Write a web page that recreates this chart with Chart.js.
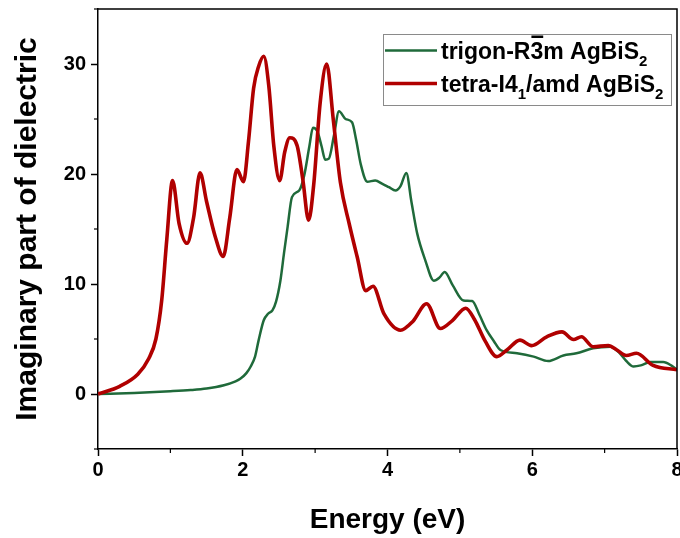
<!DOCTYPE html>
<html>
<head>
<meta charset="utf-8">
<script src="https://cdn.jsdelivr.net/npm/chart.js@4"></script>
<style>
html, body { margin: 0; padding: 0; background: #fff; }
</style>
</head>
<body>
<canvas id="chart" width="680" height="538"></canvas>
<script>
// values
const trigonEnergy = [0, 0.5, 1.0, 1.28, 1.5, 1.74, 1.9, 1.97, 2.05, 2.11, 2.17, 2.22, 2.29, 2.35, 2.41, 2.46,
  2.52, 2.57, 2.62, 2.68, 2.78, 2.85, 2.92, 2.97, 3.03, 3.09, 3.14, 3.19, 3.26, 3.33, 3.42, 3.51, 3.57,
  3.63, 3.72, 3.83, 3.93, 4.02, 4.11, 4.18, 4.26, 4.33, 4.41, 4.52, 4.64, 4.72, 4.79, 4.9, 5.05, 5.17,
  5.27, 5.37, 5.47, 5.56, 5.79, 6.02, 6.22, 6.43, 6.61, 6.84, 7.08, 7.21, 7.30, 7.40, 7.5, 7.63, 7.81, 7.92, 8.0]
const trigonEps = [0, 0.1, 0.25, 0.36, 0.5, 0.8, 1.15, 1.4, 1.9, 2.5, 3.4, 4.9, 6.7, 7.3, 7.6, 8.4,
  10.3, 12.8, 15.2, 17.9, 18.5, 19.9, 22.5, 24.2, 23.9, 22.5, 21.3, 21.4, 23.5, 25.7, 25, 24.7, 23,
  20.9, 19.3, 19.4, 19.1, 18.8, 18.5, 18.9, 20.1, 17.5, 14.6, 12.2, 10.3, 10.6, 11.1, 9.9, 8.5, 8.45,
  7.2, 5.8, 4.8, 4.0, 3.7, 3.4, 3.0, 3.5, 3.7, 4.15, 4.3, 3.7, 3.0, 2.5, 2.6, 2.9, 2.9, 2.6, 2.2]

const tetraEnergy = [0, 0.3, 0.55, 0.7, 0.8, 0.88, 0.95, 1.03, 1.12, 1.23, 1.32, 1.41, 1.5, 1.62, 1.73,
  1.82, 1.92, 2.01, 2.08, 2.15, 2.22, 2.29, 2.36, 2.43, 2.51, 2.58, 2.65, 2.75, 2.83, 2.91, 2.98, 3.07,
  3.16, 3.25, 3.35, 3.47, 3.58, 3.70, 3.80, 3.95, 4.18, 4.35, 4.54, 4.73, 4.9, 5.08, 5.2, 5.35, 5.51,
  5.65, 5.83, 5.99, 6.2, 6.41, 6.57, 6.68, 6.84, 7.05, 7.17, 7.30, 7.44, 7.67, 8.0]
const tetraEps = [0, 0.7, 1.8, 3.2, 5, 8.5, 14, 19.4, 15.5, 13.7, 16, 20.1, 17.5, 14.3, 12.5,
  16, 20.4, 19.3, 23, 27.8, 29.8, 30.7, 28, 22.5, 19.4, 22, 23.3, 22.6, 19.5, 15.8, 19, 26.5,
  30, 25, 19.2, 15.5, 12.5, 9.4, 9.8, 7.3, 5.8, 6.6, 8.2, 5.95, 6.7, 7.8, 6.8, 4.8, 3.4,
  4, 4.9, 4.4, 5.2, 5.65, 4.95, 5.2, 4.3, 4.4, 4, 3.5, 3.7, 2.6, 2.2]

const xTicks = [0, 1, 2, 3, 4, 5, 6, 7, 8]
const yTicks = [-5, 0, 5, 10, 15, 20, 25, 30, 35]

const FAMILY = "'Liberation Sans', Arial, sans-serif"
const GREEN = '#1f6a3a'
const RED = '#b00000'

function to_points(xs, ys) {
    return xs.map((x, i) => ({x: x, y: ys[i]}))
}

// frame on top/right + short minor ticks
const frame_plugin = {
    id: 'frame',
    afterDraw(chart) {
        const ctx = chart.ctx
        const a = chart.chartArea
        const xs = chart.scales.x
        const ys = chart.scales.y
        ctx.save()
        ctx.strokeStyle = '#000'
        ctx.lineWidth = 1.5
        ctx.beginPath()
        ctx.moveTo(a.left, a.top)
        ctx.lineTo(a.right, a.top)
        ctx.lineTo(a.right, a.bottom)
        ctx.stroke()
        ctx.lineWidth = 1.2
        xTicks.filter(v => v % 2 !== 0).forEach(v => {
            const px = xs.getPixelForValue(v)
            ctx.beginPath()
            ctx.moveTo(px, a.bottom)
            ctx.lineTo(px, a.bottom + 4)
            ctx.stroke()
        })
        yTicks.filter(v => v % 10 !== 0).forEach(v => {
            const py = ys.getPixelForValue(v)
            ctx.beginPath()
            ctx.moveTo(a.left - 4, py)
            ctx.lineTo(a.left, py)
            ctx.stroke()
        })
        ctx.restore()
    }
}

function draw_rich(ctx, parts, x, y) {
    parts.forEach(p => {
        ctx.font = p.sub ? 'bold 15px ' + FAMILY : 'bold 23px ' + FAMILY
        const dy = p.sub ? 7 : 0
        ctx.fillText(p.t, x, y + dy)
        const w = ctx.measureText(p.t).width
        if (p.bar) {
            ctx.fillRect(x + 1, y - 23.5, w - 1, 2.5)
        }
        x += w
    })
}

const legend_rows = [
    {color: GREEN, width: 2.5, parts: [{t: 'trigon-R'}, {t: '3', bar: true}, {t: 'm AgBiS'}, {t: '2', sub: true}]},
    {color: RED, width: 3.5, parts: [{t: 'tetra-I4'}, {t: '1', sub: true}, {t: '/amd AgBiS'}, {t: '2', sub: true}]}
]

const legend_plugin = {
    id: 'boxlegend',
    afterDraw(chart) {
        const ctx = chart.ctx
        const a = chart.chartArea
        const bx = a.right - 294
        const by = a.top + 25
        ctx.save()
        ctx.strokeStyle = '#8a8a8a'
        ctx.lineWidth = 1
        ctx.strokeRect(bx + 0.5, by + 0.5, 288, 71)
        ctx.textBaseline = 'alphabetic'
        legend_rows.forEach((row, i) => {
            const cy = by + 16.5 + i * 33
            ctx.strokeStyle = row.color
            ctx.lineWidth = row.width
            ctx.beginPath()
            ctx.moveTo(bx + 2, cy)
            ctx.lineTo(bx + 54, cy)
            ctx.stroke()
            ctx.fillStyle = '#000'
            draw_rich(ctx, row.parts, bx + 58, cy + 8.5)
        })
        ctx.restore()
    }
}

const chart = new Chart(document.getElementById('chart'), {
    type: 'scatter',
    data: {
        datasets: [{
            label: 'trigon-R3\u0305m AgBiS\u2082',
            data: to_points(trigonEnergy, trigonEps),
            showLine: true,
            borderColor: GREEN,
            backgroundColor: GREEN,
            borderWidth: 2.5,
            pointRadius: 0,
            cubicInterpolationMode: 'monotone',
            order: 2
        }, {
            label: 'tetra-I4\u2081/amd AgBiS\u2082',
            data: to_points(tetraEnergy, tetraEps),
            showLine: true,
            borderColor: RED,
            backgroundColor: RED,
            borderWidth: 3.6,
            pointRadius: 0,
            cubicInterpolationMode: 'monotone',
            order: 1
        }]
    },
    options: {
        responsive: false,
        animation: false,
        layout: { padding: { top: 9, right: 3, left: 0, bottom: 0 } },
        plugins: {
            legend: { display: false },
            tooltip: { enabled: false }
        },
        scales: {
            x: {
                type: 'linear',
                min: 0,
                max: 8,
                afterBuildTicks: s => { s.ticks = xTicks.map(v => ({value: v})) },
                afterFit: s => { s.height = 89; s.paddingLeft = 0; s.paddingRight = 0 },
                ticks: {
                    color: '#000',
                    font: { family: FAMILY, size: 20, weight: 'bold', lineHeight: 1.2 },
                    padding: 2,
                    maxRotation: 0,
                    autoSkip: false,
                    callback: v => (v % 2 === 0 ? v : '')
                },
                grid: {
                    drawOnChartArea: false,
                    tickLength: 7,
                    tickWidth: 1.5,
                    tickColor: c => (c.tick && c.tick.value % 2 === 0 ? '#000' : 'rgba(0,0,0,0)')
                },
                border: { color: '#000', width: 1.5 },
                title: {
                    display: true,
                    text: 'Energy (eV)',
                    color: '#000',
                    font: { family: FAMILY, size: 28, weight: 'bold', lineHeight: 1.2 },
                    padding: { top: 0, bottom: 1 }
                }
            },
            y: {
                min: -5,
                max: 35,
                afterBuildTicks: s => { s.ticks = yTicks.map(v => ({value: v})) },
                afterFit: s => { s.width = 98; s.paddingTop = 0; s.paddingBottom = 0 },
                ticks: {
                    color: '#000',
                    font: { family: FAMILY, size: 20, weight: 'bold', lineHeight: 1.2 },
                    padding: 5,
                    autoSkip: false,
                    callback: v => (v % 10 === 0 ? v : '')
                },
                grid: {
                    drawOnChartArea: false,
                    tickLength: 7,
                    tickWidth: 1.5,
                    tickColor: c => (c.tick && c.tick.value % 10 === 0 ? '#000' : 'rgba(0,0,0,0)')
                },
                border: { color: '#000', width: 1.5 },
                title: {
                    display: true,
                    text: 'Imaginary part of dielectric',
                    color: '#000',
                    font: { family: FAMILY, size: 30, weight: 'bold', lineHeight: 1.2 },
                    padding: { top: 10, bottom: 0 }
                }
            }
        }
    },
    plugins: [frame_plugin, legend_plugin]
})
</script>
</body>
</html>
